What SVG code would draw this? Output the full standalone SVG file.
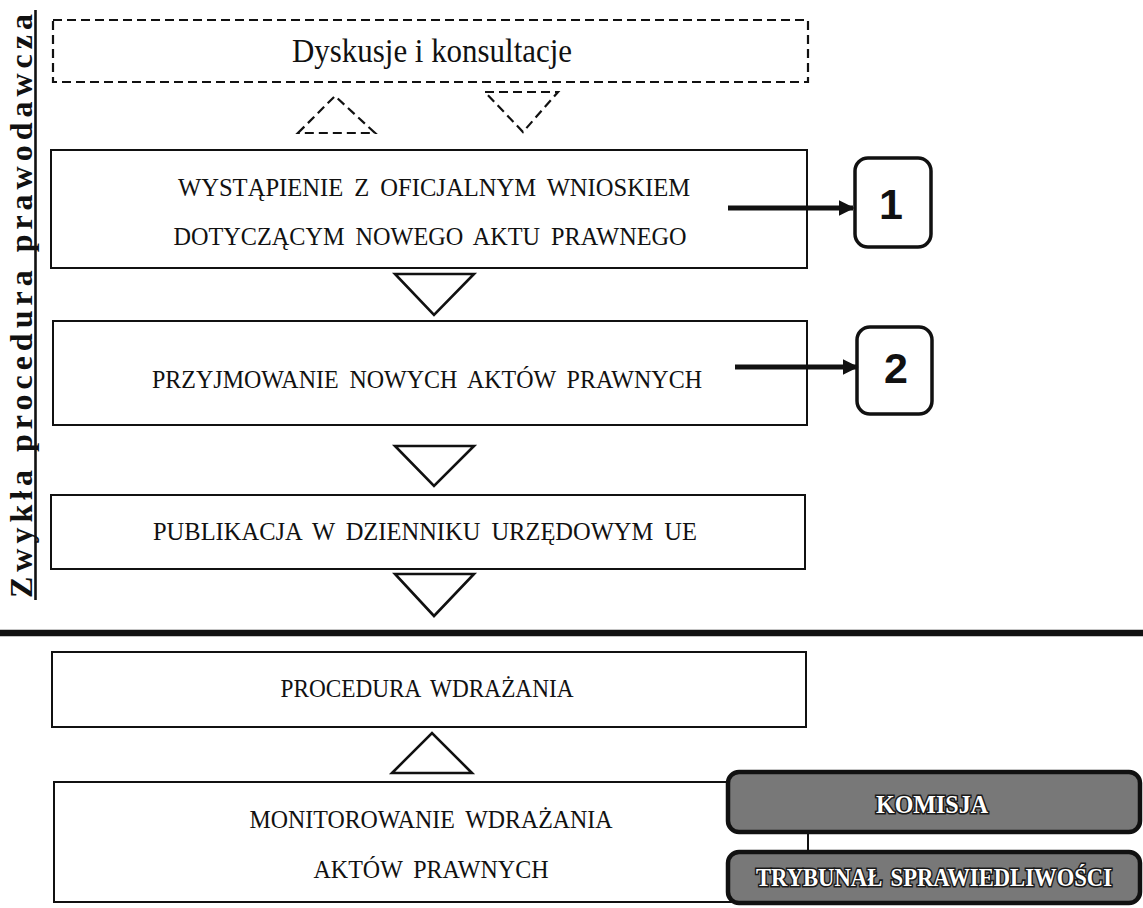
<svg xmlns="http://www.w3.org/2000/svg" width="1143" height="908" viewBox="0 0 1143 908">
<defs>
<style>
.box{fill:#fff;stroke:#111;stroke-width:2}
.dash{fill:none;stroke:#111;stroke-width:2.2;stroke-dasharray:9 5}
.tri{fill:none;stroke:#111;stroke-width:2.6;stroke-linejoin:miter}
.t{font-family:"Liberation Serif","Times New Roman",serif;font-size:25px;fill:#111;text-anchor:middle;word-spacing:5px}
.num{fill:#fff;stroke:#111;stroke-width:3.5}
.n{font-family:"Liberation Sans",Arial,sans-serif;font-weight:bold;font-size:43px;fill:#111;text-anchor:middle}
.arr{stroke:#111;stroke-width:5;fill:none}
.gray{fill:#787878;stroke:#111;stroke-width:4.5}
.g{font-family:"Liberation Serif","Times New Roman",serif;font-weight:bold;font-size:25px;fill:#fff;stroke:#1a1a1a;stroke-width:3.2;paint-order:stroke;text-anchor:middle;word-spacing:3px}
</style>
<marker id="ah" viewBox="0 0 10 10" refX="9" refY="5" markerWidth="3.2" markerHeight="3.2" orient="auto" markerUnits="strokeWidth">
<path d="M0,0 L10,5 L0,10 z" fill="#111"/>
</marker>
</defs>
<rect width="1143" height="908" fill="#fff"/>

<g id="side-label">
<text transform="translate(32,598) rotate(-90)" font-family="'Liberation Serif','Times New Roman',serif" font-weight="bold" font-size="32" fill="#111" textLength="584" lengthAdjust="spacing">Zwykła procedura prawodawcza</text>
<line x1="35.5" y1="10" x2="35.5" y2="600" stroke="#111" stroke-width="2.6"/>
</g>

<g id="separator">
<line x1="0" y1="633" x2="1143" y2="633" stroke="#111" stroke-width="6.5"/>
</g>

<g id="node-dyskusje">
<rect class="dash" x="53" y="20" width="755" height="62"/>
<text x="432" y="62" font-family="'Liberation Serif','Times New Roman',serif" font-size="33" fill="#111" text-anchor="middle" textLength="280" lengthAdjust="spacingAndGlyphs">Dyskusje i konsultacje</text>
</g>

<g id="node-wystapienie">
<rect class="box" x="51" y="150" width="756" height="118"/>
<text class="t" x="434" y="196" textLength="512" lengthAdjust="spacingAndGlyphs">WYSTĄPIENIE Z OFICJALNYM WNIOSKIEM</text>
<text class="t" x="430" y="245" textLength="513" lengthAdjust="spacingAndGlyphs">DOTYCZĄCYM NOWEGO AKTU PRAWNEGO</text>
</g>

<g id="node-1">
<rect class="num" x="855" y="158" width="76" height="89" rx="13"/>
<text class="n" x="891" y="219">1</text>
</g>

<g id="node-przyjmowanie">
<rect class="box" x="53" y="321" width="754" height="104"/>
<text class="t" x="427" y="388" textLength="550" lengthAdjust="spacingAndGlyphs">PRZYJMOWANIE NOWYCH AKTÓW PRAWNYCH</text>
</g>

<g id="node-2">
<rect class="num" x="857" y="327" width="75" height="87" rx="13"/>
<text class="n" x="896" y="383">2</text>
</g>

<g id="node-publikacja">
<rect class="box" x="51" y="495" width="754" height="74"/>
<text class="t" x="425" y="540" textLength="544" lengthAdjust="spacingAndGlyphs">PUBLIKACJA W DZIENNIKU URZĘDOWYM UE</text>
</g>

<g id="node-procedura">
<rect class="box" x="52" y="652" width="754" height="75"/>
<text class="t" x="427" y="697" textLength="293" lengthAdjust="spacingAndGlyphs">PROCEDURA WDRAŻANIA</text>
</g>

<g id="node-monitorowanie">
<rect class="box" x="54" y="782" width="754" height="120"/>
<text class="t" x="431" y="828" textLength="363" lengthAdjust="spacingAndGlyphs">MONITOROWANIE WDRAŻANIA</text>
<text class="t" x="431" y="878" textLength="235" lengthAdjust="spacingAndGlyphs">AKTÓW PRAWNYCH</text>
</g>

<g id="connectors">
<polygon class="dash" points="298,133 335,96 375,133"/>
<polygon class="dash" points="485,92 558,92 523,132"/>
<polygon class="tri" points="395,274 474,274 434,315"/>
<polygon class="tri" points="395,446 474,446 434,486"/>
<polygon class="tri" points="395,574 474,574 434,616"/>
<polygon class="tri" points="392,773 472,773 432,733"/>
<line class="arr" x1="728" y1="208" x2="853" y2="208" marker-end="url(#ah)"/>
<line class="arr" x1="735" y1="367" x2="857" y2="367" marker-end="url(#ah)"/>
</g>

<g id="node-komisja">
<rect class="gray" x="728" y="772" width="412" height="60" rx="11"/>
<text class="g" x="932" y="813" textLength="112" lengthAdjust="spacingAndGlyphs">KOMISJA</text>
</g>

<g id="node-trybunal">
<rect class="gray" x="728" y="852" width="412" height="51" rx="11"/>
<text class="g" x="934" y="886" font-size="22" textLength="356" lengthAdjust="spacingAndGlyphs">TRYBUNAŁ SPRAWIEDLIWOŚCI</text>
</g>
</svg>
